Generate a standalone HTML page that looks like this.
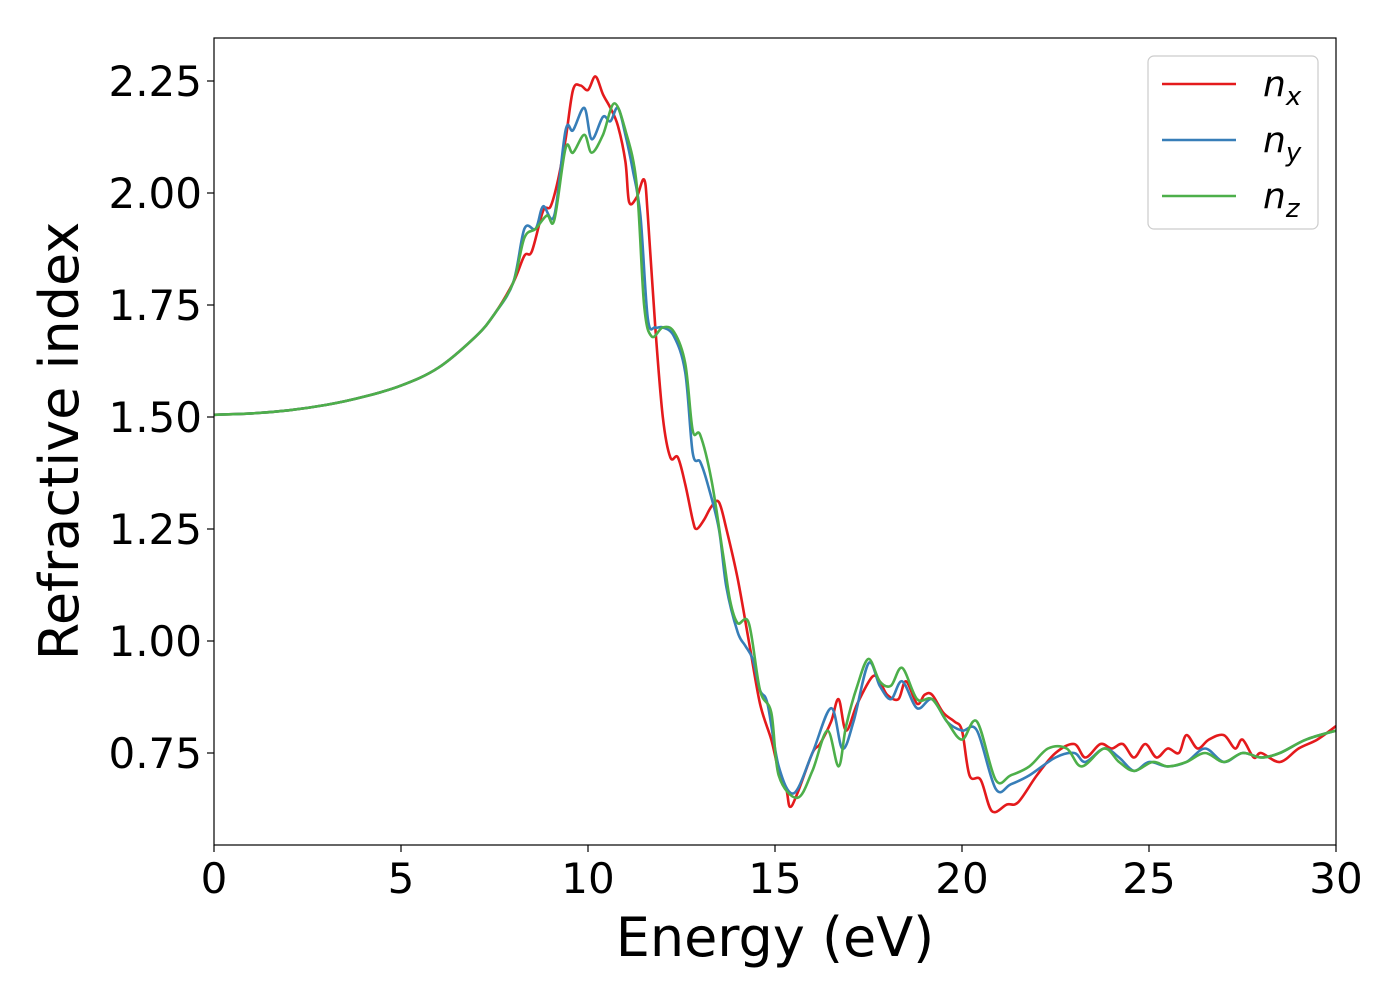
<!DOCTYPE html>
<html><head><meta charset="utf-8"><style>
body{margin:0;background:#fff;}
svg text{font-family:"DejaVu Sans","Liberation Sans",sans-serif;}
</style></head><body>
<svg id="chart" width="1400" height="1000" xmlns="http://www.w3.org/2000/svg">
<rect x="0" y="0" width="1400" height="1000" fill="#fff"/>
<g id="plot"></g>
</svg>
<script>
const xTicks=[0,5,10,15,20,25,30];
const yTicks=[0.75,1.00,1.25,1.50,1.75,2.00,2.25];
const yTickLabels=["0.75","1.00","1.25","1.50","1.75","2.00","2.25"];
const base=[[0,1.505],[1,1.508],[2,1.515],[3,1.527],[4,1.545],[5,1.57],[6,1.61],[7,1.68],[7.5,1.73],[8,1.80]];
const nxData=base.concat([[8.3,1.86],[8.5,1.87],[8.8,1.96],[9,1.97],[9.2,2.03],[9.4,2.12],[9.6,2.23],[9.8,2.24],[10,2.23],[10.2,2.26],[10.4,2.22],[10.6,2.19],[10.8,2.15],[11,2.07],[11.1,1.98],[11.3,1.99],[11.5,2.03],[11.6,1.95],[11.8,1.70],[12,1.50],[12.2,1.41],[12.4,1.41],[12.6,1.35],[12.8,1.27],[12.9,1.25],[13.1,1.27],[13.3,1.30],[13.5,1.31],[13.7,1.25],[14,1.14],[14.3,1.00],[14.6,0.86],[14.9,0.78],[15.1,0.71],[15.3,0.67],[15.4,0.63],[15.6,0.66],[16,0.75],[16.2,0.77],[16.5,0.82],[16.7,0.87],[16.9,0.80],[17.2,0.86],[17.6,0.92],[17.8,0.91],[18,0.88],[18.3,0.87],[18.5,0.91],[18.8,0.86],[19,0.88],[19.2,0.88],[19.5,0.84],[19.8,0.82],[20,0.80],[20.2,0.70],[20.5,0.69],[20.8,0.62],[21.2,0.635],[21.5,0.64],[22,0.70],[22.5,0.75],[23,0.77],[23.3,0.74],[23.7,0.77],[24,0.76],[24.3,0.77],[24.6,0.74],[24.9,0.77],[25.2,0.74],[25.5,0.76],[25.8,0.75],[26,0.79],[26.3,0.76],[26.6,0.78],[27,0.79],[27.3,0.76],[27.5,0.78],[27.8,0.74],[28,0.75],[28.5,0.73],[29,0.76],[29.5,0.78],[30,0.81]]);
const nyData=base.concat([[8.3,1.92],[8.6,1.92],[8.8,1.97],[9.1,1.95],[9.4,2.14],[9.6,2.14],[9.9,2.19],[10.1,2.12],[10.4,2.17],[10.6,2.16],[10.8,2.19],[11,2.13],[11.2,2.05],[11.4,1.95],[11.6,1.72],[11.8,1.70],[12,1.70],[12.3,1.68],[12.6,1.60],[12.8,1.42],[13,1.40],[13.2,1.35],[13.5,1.25],[13.7,1.12],[14,1.02],[14.2,0.99],[14.4,0.96],[14.6,0.89],[14.8,0.86],[15.1,0.72],[15.5,0.66],[16,0.75],[16.5,0.85],[16.8,0.76],[17.1,0.82],[17.5,0.95],[17.8,0.90],[18.1,0.87],[18.4,0.91],[18.8,0.85],[19.2,0.87],[19.6,0.82],[20,0.80],[20.4,0.80],[20.9,0.67],[21.3,0.68],[21.8,0.70],[22.5,0.74],[23,0.75],[23.3,0.73],[23.8,0.76],[24.2,0.74],[24.6,0.71],[25,0.73],[25.5,0.72],[26,0.73],[26.5,0.76],[27,0.73],[27.5,0.75],[28,0.74],[28.5,0.75],[29.2,0.78],[30,0.80]]);
const nzData=base.concat([[8.3,1.90],[8.6,1.92],[8.9,1.95],[9.1,1.94],[9.4,2.10],[9.6,2.09],[9.9,2.13],[10.1,2.09],[10.4,2.13],[10.7,2.20],[11,2.14],[11.3,2.02],[11.5,1.75],[11.7,1.68],[12,1.70],[12.3,1.69],[12.6,1.62],[12.8,1.47],[13,1.46],[13.3,1.36],[13.6,1.20],[13.8,1.09],[14,1.04],[14.3,1.04],[14.6,0.89],[14.9,0.84],[15.1,0.70],[15.6,0.65],[16,0.71],[16.4,0.80],[16.7,0.72],[16.9,0.81],[17.2,0.90],[17.5,0.96],[17.8,0.91],[18.1,0.90],[18.4,0.94],[18.8,0.87],[19.2,0.87],[19.6,0.82],[20,0.78],[20.4,0.82],[20.9,0.69],[21.3,0.70],[21.8,0.72],[22.3,0.76],[22.8,0.76],[23.2,0.72],[23.8,0.76],[24.2,0.73],[24.6,0.71],[25.1,0.73],[25.5,0.72],[26,0.73],[26.5,0.75],[27,0.73],[27.5,0.75],[28,0.74],[28.5,0.75],[29.2,0.78],[30,0.80]]);

const L=214,R=1336,T=38,B=845;
function xs(v){return L+(v-0)/30*(R-L);}
function ys(v){return 81+(2.25-v)*448;}
const NS="http://www.w3.org/2000/svg";
const g=document.getElementById('plot');
function mk(tag,attrs,parent){const e=document.createElementNS(NS,tag);for(const k in attrs)e.setAttribute(k,attrs[k]);(parent||g).appendChild(e);return e;}
function pathFor(d){
  const p=d.map(a=>[xs(a[0]),ys(a[1])]);
  let s="M"+p[0][0].toFixed(1)+","+p[0][1].toFixed(1);
  for(let i=0;i<p.length-1;i++){
    const p0=p[Math.max(0,i-1)],p1=p[i],p2=p[i+1],p3=p[Math.min(p.length-1,i+2)];
    const c1=[p1[0]+(p2[0]-p0[0])/6,p1[1]+(p2[1]-p0[1])/6];
    const c2=[p2[0]-(p3[0]-p1[0])/6,p2[1]-(p3[1]-p1[1])/6];
    s+="C"+c1[0].toFixed(1)+","+c1[1].toFixed(1)+" "+c2[0].toFixed(1)+","+c2[1].toFixed(1)+" "+p2[0].toFixed(1)+","+p2[1].toFixed(1);
  }
  return s;
}
const clip=mk('clipPath',{id:'clipArea'});
mk('rect',{x:L,y:T,width:R-L,height:B-T},clip);
const series=[["nx",nxData,"#e41a1c"],["ny",nyData,"#377eb8"],["nz",nzData,"#4daf4a"]];
series.forEach(s=>{
  const e=mk('path',{d:pathFor(s[1]),fill:'none',stroke:s[2],'stroke-width':2.6,'clip-path':'url(#clipArea)'});
  
  
});
const frame=mk('rect',{x:L,y:T,width:R-L,height:B-T,fill:'none',stroke:'#000','stroke-width':1.2});


xTicks.forEach(t=>{
  mk('line',{x1:xs(t),x2:xs(t),y1:B,y2:B+7,stroke:'#000','stroke-width':1.2});
  const e=mk('text',{x:xs(t),y:893,'font-size':42,'text-anchor':'middle'});
  e.textContent=String(t);
  
  
});
yTicks.forEach((t,i)=>{
  mk('line',{x1:L-7,x2:L,y1:ys(t),y2:ys(t),stroke:'#000','stroke-width':1.2});
  const e=mk('text',{x:202,y:ys(t)+15,'font-size':42,'text-anchor':'end'});
  e.textContent=yTickLabels[i];
  
  
});
const xt=mk('text',{x:775,y:956,'font-size':54,'text-anchor':'middle'});
xt.textContent="Energy (eV)";


const yt=mk('text',{x:78,y:441,'font-size':54,'text-anchor':'middle',transform:'rotate(-90 78 441)'});
yt.textContent="Refractive index";


const lg=mk('g',{});


mk('rect',{x:1148,y:56,width:170,height:173,rx:6,fill:'#fff',stroke:'#ccc','stroke-width':1.2},lg);
const subs=["x","y","z"];
series.forEach((s,i)=>{
  const y=84+i*56;
  const ln=mk('line',{x1:1162,x2:1236,y1:y,y2:y,stroke:s[2],'stroke-width':2.6},lg);
  
  
  const tx=mk('text',{x:1263,y:y+12,'font-size':36,'font-style':'italic'},lg);
  tx.innerHTML='n<tspan font-size="26" dy="9">'+subs[i]+'</tspan>';
  
  
});
</script>
</body></html>
